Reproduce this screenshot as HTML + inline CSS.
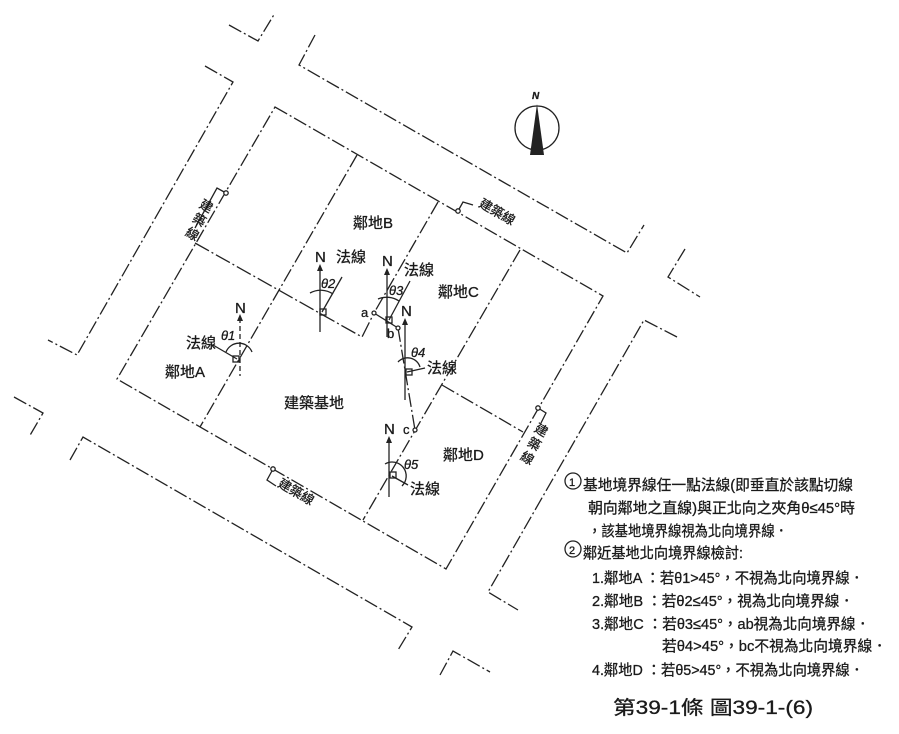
<!DOCTYPE html>
<html><head><meta charset="utf-8"><style>
html,body{margin:0;padding:0;background:#fff;}
svg{display:block;}
text{font-family:"Liberation Sans","Noto Sans CJK TC",sans-serif;fill:#1a1a1a;}
</style></head><body>
<svg width="899" height="734" viewBox="0 0 899 734" xmlns="http://www.w3.org/2000/svg">
<g fill="none" stroke="#222" stroke-width="1.3">
<g stroke-dasharray="14 3 2 3">
<polyline points="229,25 258,41 275,13"/>
<polyline points="315,35 299,65 627,253 644,225"/>
<polyline points="205,66 233,82 77,355 48,340"/>
<polyline points="685,249 668,277 700,297"/>
<polyline points="677,337 644,320 488,592 518,610"/>
<polyline points="14,397 43,413 29,437"/>
<polyline points="70,460 83,437 412,627 398,650"/>
<polyline points="440,675 453,651 490,672"/>
<polygon points="275,107 603,296 446,569 117,379"/>
<polyline points="357,155 200,427"/>
<polyline points="438,202 374,313"/>
<polyline points="520,250 363,520"/>
<polyline points="442,385 523,432"/>
<polyline points="398,328 415,430"/>
</g>
<polyline points="195,243 362,337 374,313" stroke-dasharray="16 3 2 3"/>
<polyline points="374,313 398,328"/>
<polyline points="226,193 217,188 195,228"/>
<polyline points="458,211 463,202 473,205"/>
<polyline points="538,408 546,413 541,423"/>
<polyline points="273,469 267,480 276,486"/>
<circle cx="226" cy="193" r="2.2" fill="#fff"/>
<circle cx="458" cy="211" r="2.2" fill="#fff"/>
<circle cx="538" cy="408" r="2.2" fill="#fff"/>
<circle cx="273" cy="469" r="2.2" fill="#fff"/>
<circle cx="374" cy="313" r="2" fill="#fff"/>
<circle cx="398" cy="328" r="2" fill="#fff"/>
<circle cx="415" cy="430" r="2" fill="#fff"/>
<circle cx="537" cy="128" r="22"/>
<line x1="240" y1="318" x2="240" y2="376" stroke-dasharray="5 3"/>
<line x1="213" y1="345" x2="237" y2="359"/>
<path d="M226,352 A14,14 0 0 1 252,352"/>
<rect x="233" y="356" width="6" height="6"/>
<line x1="320" y1="268" x2="320" y2="332"/>
<line x1="322" y1="312" x2="342" y2="277"/>
<path d="M310,293 A22,22 0 0 1 333,294"/>
<rect x="320" y="309" width="6" height="6"/>
<line x1="387" y1="272" x2="387" y2="337"/>
<line x1="389" y1="320" x2="410" y2="281"/>
<path d="M378,299 A22,22 0 0 1 399,301"/>
<rect x="386" y="317" width="6" height="6"/>
<line x1="405" y1="322" x2="405" y2="400"/>
<line x1="407" y1="372" x2="425" y2="368"/>
<path d="M398,362 A13,13 0 0 1 420,367"/>
<rect x="406" y="369" width="6" height="6"/>
<line x1="389" y1="440" x2="389" y2="497"/>
<line x1="392" y1="476" x2="408" y2="485"/>
<path d="M385,464 A14,14 0 0 1 402,486"/>
<rect x="390" y="472" width="6" height="6"/>
<circle cx="573" cy="481" r="8"/>
<circle cx="573" cy="549" r="8"/>
</g>
<g fill="#222" stroke="none">
<polygon points="537,104 530,155 544,155"/>
<polygon points="240,314 237,321 243,321"/>
<polygon points="320,264 317,271 323,271"/>
<polygon points="387,268 384,275 390,275"/>
<polygon points="405,318 402,325 408,325"/>
<polygon points="389,436 386,443 392,443"/>
</g>
<g font-size="15" stroke="#1a1a1a" stroke-width="0.3">
<text x="532" y="99" font-size="10" font-style="italic" font-weight="bold">N</text>
<text x="235" y="313">N</text><text x="315" y="262">N</text><text x="382" y="266">N</text><text x="401" y="316">N</text><text x="384" y="434">N</text>
<text x="186" y="348">法線</text><text x="336" y="262">法線</text><text x="404" y="275">法線</text><text x="427" y="373">法線</text><text x="410" y="494">法線</text>
<text x="221" y="340" font-style="italic" font-size="13">θ1</text>
<text x="321" y="288" font-style="italic" font-size="13">θ2</text>
<text x="389" y="295" font-style="italic" font-size="13">θ3</text>
<text x="411" y="357" font-style="italic" font-size="13">θ4</text>
<text x="404" y="469" font-style="italic" font-size="13">θ5</text>
<text x="361" y="317" font-size="13">a</text><text x="387" y="338" font-size="13">b</text><text x="403" y="434" font-size="13">c</text>
<text x="165" y="377">鄰地A</text>
<text x="353" y="228">鄰地B</text>
<text x="438" y="297">鄰地C</text>
<text x="443" y="460">鄰地D</text>
<text x="284" y="408">建築基地</text>
<g font-size="13" text-anchor="middle">
<text transform="translate(204,210) rotate(30)">建</text>
<text transform="translate(197,224) rotate(30)">築</text>
<text transform="translate(190,238) rotate(30)">線</text>
<text transform="translate(539,434) rotate(30)">建</text>
<text transform="translate(532,448) rotate(30)">築</text>
<text transform="translate(525,462) rotate(30)">線</text>
</g>
<text transform="translate(478,206) rotate(30)" font-size="13">建築線</text>
<text transform="translate(277,486) rotate(30)" font-size="13">建築線</text>
</g>
<g font-size="15" stroke="#1a1a1a" stroke-width="0.3">
<text x="569" y="486" font-size="11">1</text>
<text x="583" y="490" textLength="270" lengthAdjust="spacingAndGlyphs">基地境界線任一點法線(即垂直於該點切線</text>
<text x="588" y="513" textLength="267" lengthAdjust="spacingAndGlyphs">朝向鄰地之直線)與正北向之夾角θ≤45°時</text>
<text x="588" y="536" textLength="200" lengthAdjust="spacingAndGlyphs">，該基地境界線視為北向境界線．</text>
<text x="569" y="554" font-size="11">2</text>
<text x="583" y="558" textLength="160" lengthAdjust="spacingAndGlyphs">鄰近基地北向境界線檢討:</text>
<text x="592" y="583" textLength="272" lengthAdjust="spacingAndGlyphs">1.鄰地A ：若θ1&gt;45°，不視為北向境界線．</text>
<text x="592" y="606" textLength="262" lengthAdjust="spacingAndGlyphs">2.鄰地B ：若θ2≤45°，視為北向境界線．</text>
<text x="592" y="629" textLength="278" lengthAdjust="spacingAndGlyphs">3.鄰地C ：若θ3≤45°，ab視為北向境界線．</text>
<text x="662" y="651" textLength="225" lengthAdjust="spacingAndGlyphs">若θ4&gt;45°，bc不視為北向境界線．</text>
<text x="592" y="675" textLength="272" lengthAdjust="spacingAndGlyphs">4.鄰地D ：若θ5&gt;45°，不視為北向境界線．</text>
<text x="613" y="714" font-size="19" textLength="200" lengthAdjust="spacingAndGlyphs">第39-1條 圖39-1-(6)</text>
</g>
</svg>
</body></html>
